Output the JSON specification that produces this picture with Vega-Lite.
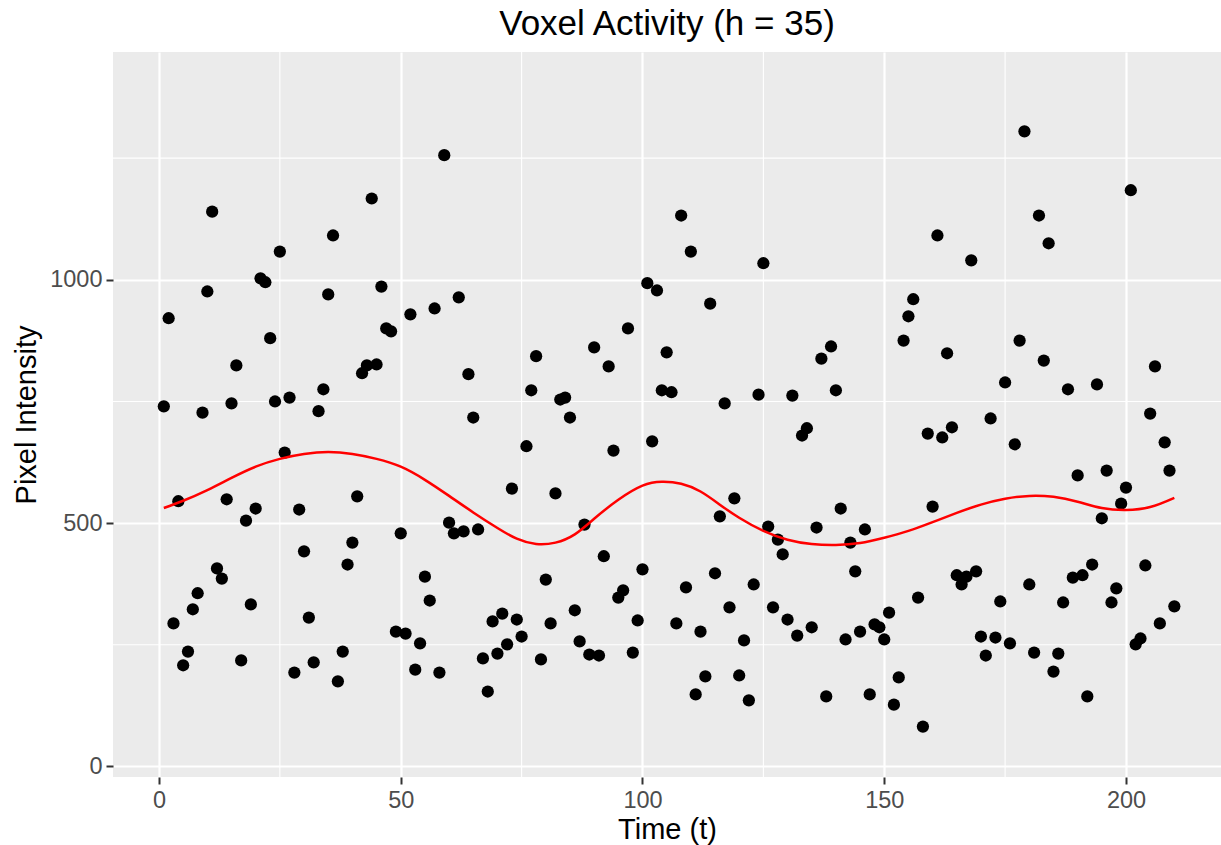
{
  "$schema": "https://vega.github.io/schema/vega-lite/v6.json",
  "autosize": {"type": "none"},
  "width": 1108,
  "height": 725,
  "padding": {"left": 113, "top": 52, "right": 0, "bottom": 68},
  "background": "white",
  "title": {"text": "Voxel Activity (h = 35)", "fontSize": 35, "font": "Liberation Sans", "fontWeight": "normal", "color": "black", "anchor": "middle", "offset": 9},
  "config": {
    "view": {"fill": "#EBEBEB", "stroke": null},
    "axis": {
      "labelFont": "Liberation Sans", "labelFontSize": 23.5, "labelColor": "#4D4D4D",
      "titleFont": "Liberation Sans", "titleFontSize": 29, "titleFontWeight": "normal", "titleColor": "black",
      "tickColor": "#333333", "tickSize": 7, "tickWidth": 2, "domain": false,
      "grid": true, "gridColor": "white", "gridWidth": 2.2, "labelPadding": 4
    }
  },
  "datasets": {
    "pts": [
      {"t":1,"v":740},{"t":2,"v":921},{"t":3,"v":294},{"t":4,"v":545},{"t":5,"v":208},{"t":6,"v":236},{"t":7,"v":323},{"t":8,"v":356},{"t":9,"v":727},{"t":10,"v":976},
      {"t":11,"v":1140},{"t":12,"v":407},{"t":13,"v":386},{"t":14,"v":549},{"t":15,"v":746},{"t":16,"v":824},{"t":17,"v":218},{"t":18,"v":505},{"t":19,"v":333},{"t":20,"v":530},
      {"t":21,"v":1003},{"t":22,"v":995},{"t":23,"v":880},{"t":24,"v":750},{"t":25,"v":1058},{"t":26,"v":645},{"t":27,"v":758},{"t":28,"v":193},{"t":29,"v":528},{"t":30,"v":442},
      {"t":31,"v":306},{"t":32,"v":214},{"t":33,"v":730},{"t":34,"v":775},{"t":35,"v":970},{"t":36,"v":1091},{"t":37,"v":175},{"t":38,"v":236},{"t":39,"v":415},{"t":40,"v":460},
      {"t":41,"v":555},{"t":42,"v":808},{"t":43,"v":824},{"t":44,"v":1167},{"t":45,"v":826},{"t":46,"v":986},{"t":47,"v":900},{"t":48,"v":894},{"t":49,"v":277},{"t":50,"v":479},
      {"t":51,"v":273},{"t":52,"v":929},{"t":53,"v":199},{"t":54,"v":253},{"t":55,"v":390},{"t":56,"v":341},{"t":57,"v":941},{"t":58,"v":193},{"t":59,"v":1256},{"t":60,"v":501},
      {"t":61,"v":479},{"t":62,"v":964},{"t":63,"v":483},{"t":64,"v":806},{"t":65,"v":717},{"t":66,"v":487},{"t":67,"v":222},{"t":68,"v":154},{"t":69,"v":298},{"t":70,"v":232},
      {"t":71,"v":314},{"t":72,"v":251},{"t":73,"v":571},{"t":74,"v":302},{"t":75,"v":267},{"t":76,"v":658},{"t":77,"v":773},{"t":78,"v":843},{"t":79,"v":220},{"t":80,"v":384},
      {"t":81,"v":294},{"t":82,"v":561},{"t":83,"v":754},{"t":84,"v":758},{"t":85,"v":717},{"t":86,"v":321},{"t":87,"v":257},{"t":88,"v":497},{"t":89,"v":230},{"t":90,"v":861},
      {"t":91,"v":228},{"t":92,"v":432},{"t":93,"v":822},{"t":94,"v":649},{"t":95,"v":347},{"t":96,"v":362},{"t":97,"v":900},{"t":98,"v":234},{"t":99,"v":300},{"t":100,"v":405},
      {"t":101,"v":993},{"t":102,"v":668},{"t":103,"v":978},{"t":104,"v":773},{"t":105,"v":851},{"t":106,"v":769},{"t":107,"v":294},{"t":108,"v":1132},{"t":109,"v":368},{"t":110,"v":1058},
      {"t":111,"v":148},{"t":112,"v":277},{"t":113,"v":185},{"t":114,"v":951},{"t":115,"v":397},{"t":116,"v":514},{"t":117,"v":746},{"t":118,"v":327},{"t":119,"v":551},{"t":120,"v":187},
      {"t":121,"v":259},{"t":122,"v":136},{"t":123,"v":374},{"t":124,"v":764},{"t":125,"v":1034},{"t":126,"v":493},{"t":127,"v":327},{"t":128,"v":466},{"t":129,"v":436},{"t":130,"v":302},
      {"t":131,"v":762},{"t":132,"v":269},{"t":133,"v":680},{"t":134,"v":695},{"t":135,"v":286},{"t":136,"v":491},{"t":137,"v":838},{"t":138,"v":144},{"t":139,"v":863},{"t":140,"v":773},
      {"t":141,"v":530},{"t":142,"v":261},{"t":143,"v":460},{"t":144,"v":401},{"t":145,"v":277},{"t":146,"v":487},{"t":147,"v":148},{"t":148,"v":292},{"t":149,"v":286},{"t":150,"v":261},
      {"t":151,"v":316},{"t":152,"v":127},{"t":153,"v":183},{"t":154,"v":875},{"t":155,"v":925},{"t":156,"v":960},{"t":157,"v":347},{"t":158,"v":82},{"t":159,"v":684},{"t":160,"v":534},
      {"t":161,"v":1091},{"t":162,"v":676},{"t":163,"v":849},{"t":164,"v":697},{"t":165,"v":393},{"t":166,"v":374},{"t":167,"v":390},{"t":168,"v":1040},{"t":169,"v":401},{"t":170,"v":267},
      {"t":171,"v":228},{"t":172,"v":715},{"t":173,"v":265},{"t":174,"v":339},{"t":175,"v":789},{"t":176,"v":253},{"t":177,"v":662},{"t":178,"v":875},{"t":179,"v":1305},{"t":180,"v":374},
      {"t":181,"v":234},{"t":182,"v":1132},{"t":183,"v":834},{"t":184,"v":1075},{"t":185,"v":195},{"t":186,"v":232},{"t":187,"v":337},{"t":188,"v":775},{"t":189,"v":388},{"t":190,"v":598},
      {"t":191,"v":393},{"t":192,"v":144},{"t":193,"v":415},{"t":194,"v":785},{"t":195,"v":510},{"t":196,"v":608},{"t":197,"v":337},{"t":198,"v":366},{"t":199,"v":540},{"t":200,"v":573},
      {"t":201,"v":1184},{"t":202,"v":251},{"t":203,"v":263},{"t":204,"v":413},{"t":205,"v":725},{"t":206,"v":822},{"t":207,"v":294},{"t":208,"v":666},{"t":209,"v":608},{"t":210,"v":329}
    ],
    "smooth": [
      {"t":1,"v":531},{"t":5,"v":546},{"t":10,"v":568},{"t":15,"v":593},{"t":20,"v":616},{"t":25,"v":632},{"t":30,"v":642},{"t":35,"v":646},{"t":40,"v":642},{"t":45,"v":632},
      {"t":50,"v":616},{"t":55,"v":589},{"t":60,"v":556},{"t":65,"v":522},{"t":70,"v":490},{"t":74,"v":468},{"t":78,"v":457},{"t":82,"v":460},{"t":86,"v":477},{"t":90,"v":509},
      {"t":95,"v":548},{"t":100,"v":577},{"t":104,"v":585},{"t":108,"v":581},{"t":112,"v":565},{"t":116,"v":538},{"t":120,"v":511},{"t":125,"v":484},{"t":130,"v":466},{"t":135,"v":457},
      {"t":140,"v":455},{"t":145,"v":459},{"t":150,"v":470},{"t":155,"v":484},{"t":160,"v":502},{"t":165,"v":521},{"t":170,"v":538},{"t":175,"v":550},{"t":180,"v":556},{"t":185,"v":554},
      {"t":190,"v":544},{"t":195,"v":531},{"t":200,"v":527},{"t":205,"v":533},{"t":210,"v":552}
    ],
    "xminor": [{"t":25},{"t":75},{"t":125},{"t":175}],
    "yminor": [{"v":250},{"v":750},{"v":1250}]
  },
  "layer": [
    {
      "data": {"name": "xminor"},
      "mark": {"type": "rule", "color": "white", "strokeWidth": 1.1},
      "encoding": {
        "x": {"field": "t", "type": "quantitative", "scale": {"domain": [-9.51, 219.65], "nice": false, "zero": false},
              "axis": {"values": [0, 50, 100, 150, 200], "format": "d", "title": "Time (t)", "titlePadding": 4}}
      }
    },
    {
      "data": {"name": "yminor"},
      "mark": {"type": "rule", "color": "white", "strokeWidth": 1.1},
      "encoding": {
        "y": {"field": "v", "type": "quantitative", "scale": {"domain": [-21.6, 1468], "nice": false, "zero": false},
              "axis": {"values": [0, 500, 1000], "format": "d", "title": "Pixel Intensity", "titlePadding": 8}}
      }
    },
    {
      "data": {"name": "pts"},
      "mark": {"type": "circle", "color": "black", "opacity": 1, "size": 150},
      "encoding": {
        "x": {"field": "t", "type": "quantitative"},
        "y": {"field": "v", "type": "quantitative"}
      }
    },
    {
      "data": {"name": "smooth"},
      "mark": {"type": "line", "color": "#FF0000", "strokeWidth": 2.5, "interpolate": "natural"},
      "encoding": {
        "x": {"field": "t", "type": "quantitative"},
        "y": {"field": "v", "type": "quantitative"}
      }
    }
  ]
}
